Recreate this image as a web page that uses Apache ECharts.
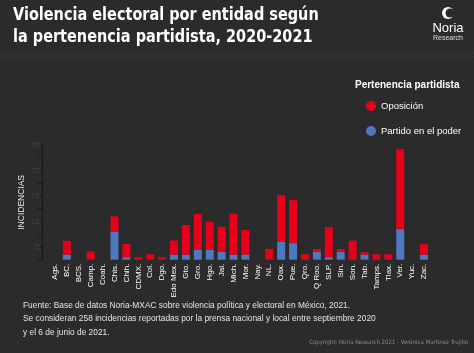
<!DOCTYPE html>
<html>
<head>
<meta charset="utf-8">
<script src="https://cdn.jsdelivr.net/npm/echarts@6/dist/echarts.min.js"></script>
<style>
  html, body { margin: 0; padding: 0; background: #2b2b2b; }
  #main { width: 474px; height: 353px; }
</style>
</head>
<body>
<div id="main"></div>
<script>
// entidades
var entidades = ['Ags.', 'BC.', 'BCS.', 'Camp.', 'Coah.', 'Chis.', 'Chih.', 'CDMX.', 'Col.', 'Dgo.',
  'Edo Mex.', 'Gto.', 'Gro.', 'Hgo.', 'Jal.', 'Mich.', 'Mor.', 'Nay.', 'NL.', 'Oax.', 'Pue.',
  'Qro.', 'Q Roo.', 'SLP.', 'Sin.', 'Son.', 'Tab.', 'Tamps.', 'Tlax.', 'Ver.', 'Yuc.', 'Zac.'];
// partido en el poder (abajo)
var enElPoder = [0, 2, 0, 0, 0, 11, 1, 0, 0, 0, 2, 2, 4, 4, 3, 2, 2, 0, 0, 7, 6.5, 0, 3, 1, 3, 0, 2, 0, 0, 12, 0, 2];
// oposicion (arriba)
var oposicion = [0, 5.4, 0, 3.3, 0, 6, 5.2, 1, 2.1, 1, 5.5, 11.6, 13.9, 10.9, 9.9, 16, 9.7, 0, 4.2, 18.3, 17, 2.1, 1.2, 11.8, 1.2, 7.5, 1, 2.1, 2.1, 31.3, 0, 4.2];
var yTicks = [5, 15, 25, 35, 45];

// fondo rayado bajo el titulo
function rayas() {
  var c = document.createElement('canvas');
  c.width = 4; c.height = 4;
  var ctx = c.getContext('2d');
  ctx.fillStyle = '#2b2b2b';
  ctx.fillRect(0, 0, 4, 4);
  ctx.strokeStyle = '#363636';
  ctx.lineWidth = 1;
  ctx.beginPath();
  ctx.moveTo(0, 4); ctx.lineTo(4, 0);
  ctx.stroke();
  return c;
}

var myChart = echarts.init(document.getElementById('main'));
var option = {
  backgroundColor: '#2b2b2b',
  animation: false,
  grid: { left: 49, width: 381, top: 145, height: 114.7 },
  legend: {
    orient: 'vertical',
    left: 361, top: 96,
    itemWidth: 10, itemHeight: 10, itemGap: 15,
    icon: 'circle',
    textStyle: { color: '#ffffff', fontSize: 9.5, fontFamily: 'Liberation Sans' },
    data: ['Oposición', 'Partido en el poder']
  },
  xAxis: {
    type: 'category',
    data: entidades,
    axisLine: { show: false },
    axisTick: { show: false },
    axisLabel: { rotate: 90, interval: 0, color: '#ffffff', fontSize: 8, fontFamily: 'Liberation Sans', margin: 4 }
  },
  yAxis: {
    type: 'value',
    min: 0, max: 45, interval: 5,
    offset: 7,
    name: 'INCIDENCIAS',
    nameLocation: 'middle',
    nameRotate: 90,
    nameGap: 16,
    nameMoveOverlap: false,
    nameTextStyle: { color: '#e8e8e8', fontSize: 8.5, fontFamily: 'Liberation Sans' },
    splitLine: { show: false },
    axisLine: { show: true, lineStyle: { color: '#161616', width: 1 } },
    axisTick: { show: true, length: 4, lineStyle: { color: '#161616' } },
    axisLabel: {
      color: '#444444', fontSize: 8, fontFamily: 'Liberation Sans', margin: 2,
      formatter: function (v) { return yTicks.indexOf(v) >= 0 ? v : ''; }
    }
  },
  series: [
    { name: 'Partido en el poder', type: 'bar', stack: 'total', data: enElPoder, barWidth: 8, itemStyle: { color: '#4f78c0' } },
    { name: 'Oposición', type: 'bar', stack: 'total', data: oposicion, barWidth: 8, itemStyle: { color: '#e8001b' } }
  ],
  graphic: [
    { type: 'rect', left: 0, top: 50, shape: { width: 474, height: 10 }, style: { fill: { image: rayas(), repeat: 'repeat' } }, silent: true },
    { type: 'text', x: 13, y: 4, scaleX: 0.87, style: { text: 'Violencia electoral por entidad según\nla pertenencia partidista, 2020-2021', fill: '#ffffff', font: 'bold 18.5px "DejaVu Sans Condensed"', lineHeight: 22 } },
    { type: 'circle', shape: { cx: 448, cy: 13, r: 6 }, style: { fill: '#ffffff' } },
    { type: 'circle', shape: { cx: 450, cy: 13, r: 4.5 }, style: { fill: '#2b2b2b' } },
    { type: 'text', x: 448, y: 28, style: { text: 'Noria', fill: '#ffffff', font: '13px "Liberation Sans"', align: 'center', verticalAlign: 'middle' } },
    { type: 'text', x: 448, y: 38, style: { text: 'Research', fill: '#dddddd', font: '7px "Liberation Sans"', align: 'center', verticalAlign: 'middle' } },
    { type: 'text', left: 355, top: 80, style: { text: 'Pertenencia partidista', fill: '#ffffff', font: 'bold 10px "Liberation Sans"' } },
    { type: 'text', x: 23, y: 299, scaleX: 0.93, style: { text: 'Fuente: Base de datos Noria-MXAC sobre violencia política y electoral en México, 2021.\nSe consideran 258 incidencias reportadas por la prensa nacional y local entre septiembre 2020\ny el 6 de junio de 2021.', fill: '#e6e6e6', font: '9px "Liberation Sans"', lineHeight: 13.3 } },
    { type: 'text', right: 6, top: 339, style: { text: 'Copyright: Noria Research 2021 - Verónica Martínez Trujillo', fill: '#8a8a8a', font: '6px "DejaVu Sans Condensed"' } }
  ]
};
myChart.setOption(option);
</script>
</body>
</html>
